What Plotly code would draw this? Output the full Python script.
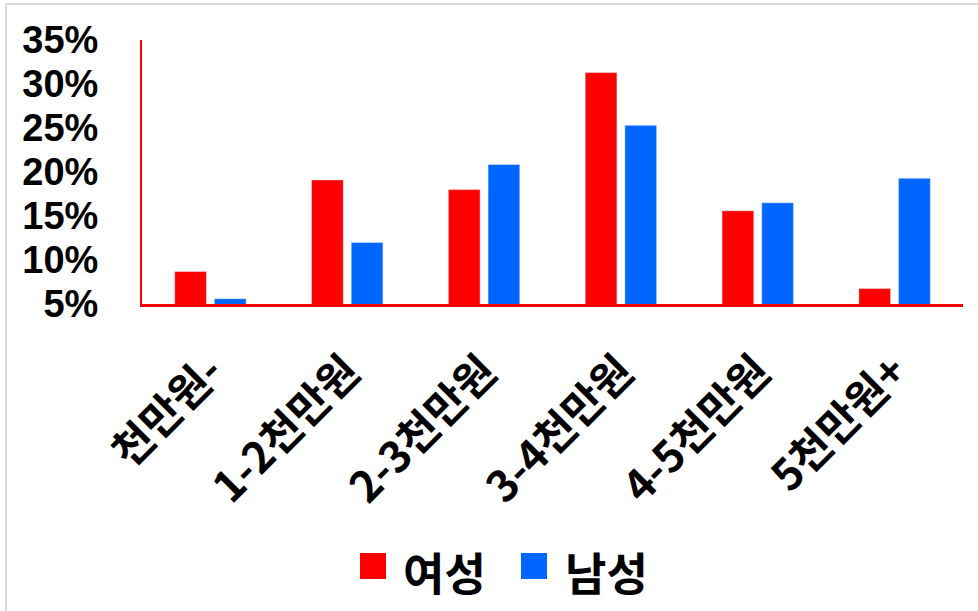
import plotly.graph_objects as go

categories = ["천만원-", "1-2천만원", "2-3천만원", "3-4천만원", "4-5천만원", "5천만원+"]
female = [8.7, 19.1, 18.0, 31.3, 15.6, 6.75]
male = [5.6, 12.0, 20.85, 25.3, 16.5, 19.3]
y_ticks = [5, 10, 15, 20, 25, 30, 35]
series_names = ["여성", "남성"]
series_colors = ["#FF0000", "#0066FF"]

FONT = "Noto Sans CJK KR"

# plot area in pixels: x 142..963, y 40..304
def px(x):
    return (x - 142) / 821

def py(y):
    return (304 - y) / 264

fig = go.Figure()
fig.add_trace(go.Bar(x=categories, y=female, name=series_names[0], marker=dict(color=series_colors[0])))
fig.add_trace(go.Bar(x=categories, y=male, name=series_names[1], marker=dict(color=series_colors[1])))

shapes = [
    dict(type="line", xref="paper", yref="paper", x0=px(6), x1=px(990), y0=py(4), y1=py(4),
         line=dict(color="#D9D9D9", width=2)),
    dict(type="line", xref="paper", yref="paper", x0=px(6), x1=px(6), y0=py(4), y1=py(620),
         line=dict(color="#D9D9D9", width=2)),
]
annotations = []
legend_sq_x = [360, 521]
legend_txt_x = [401, 563]
for name, color, sx, tx in zip(series_names, series_colors, legend_sq_x, legend_txt_x):
    shapes.append(dict(type="rect", xref="paper", yref="paper",
                       x0=px(sx), x1=px(sx + 26), y0=py(553), y1=py(579),
                       fillcolor=color, line=dict(width=0)))
    annotations.append(dict(text=name, xref="paper", yref="paper", x=px(tx), y=py(571),
                            xanchor="left", yanchor="middle", showarrow=False,
                            font=dict(size=45, family=FONT, weight="bold", color="black")))

fig.update_layout(
    width=978, height=611,
    margin=dict(l=142, r=15, t=40, b=307),
    paper_bgcolor="white", plot_bgcolor="white",
    barmode="group", bargap=0.42, bargroupgap=0.2,
    font=dict(family=FONT, color="black"),
    showlegend=False,
    xaxis=dict(showline=True, linecolor="#FF0000", linewidth=3, showgrid=False,
               ticks="", tickangle=-45,
               tickfont=dict(size=43, family=FONT, weight="bold"),
               ticklabelstandoff=22),
    yaxis=dict(range=[5, 35], tickvals=y_ticks, ticktext=[f"{v}%" for v in y_ticks],
               showline=True, linecolor="#FF0000", linewidth=2, showgrid=False,
               zeroline=False, ticks="",
               tickfont=dict(size=38, family="Liberation Sans", weight="bold"),
               ticklabelstandoff=34),
    shapes=shapes,
    annotations=annotations,
)

fig.write_html("out.html")
